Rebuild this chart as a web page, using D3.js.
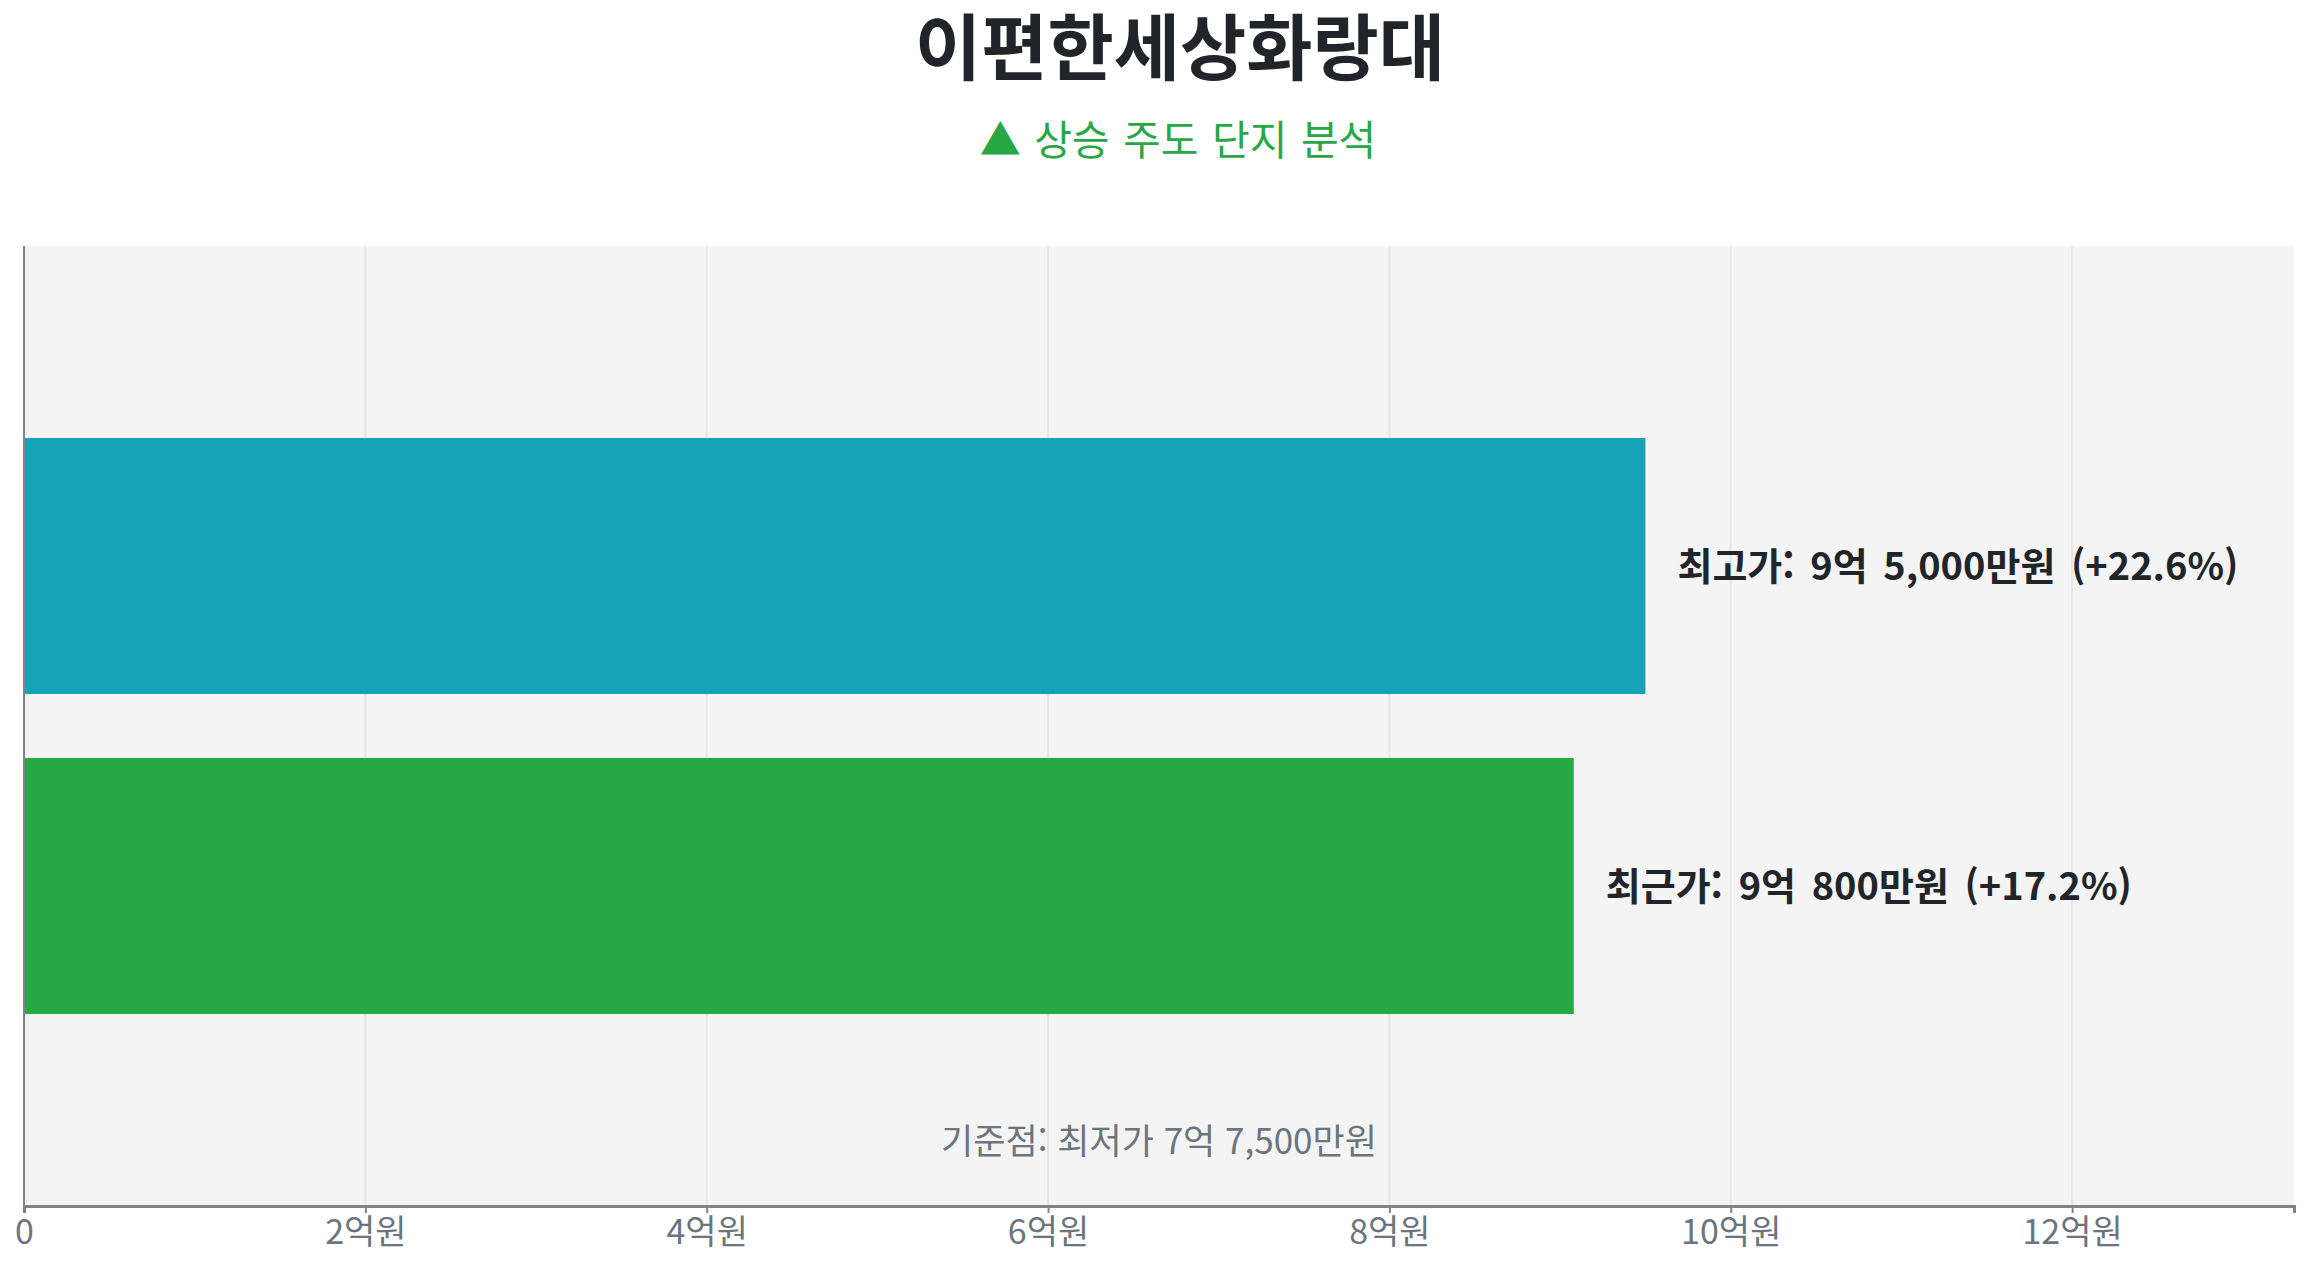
<!DOCTYPE html>
<html lang="ko">
<head>
<meta charset="UTF-8">
<title>이편한세상화랑대</title>
<script src="https://d3js.org/d3.v7.min.js"></script>
<style>
    body { margin: 0; background: #ffffff; }
    svg text { font-family: "Noto Sans CJK KR", "Noto Sans", sans-serif; }
</style>
</head>
<body>
<script>
    // data (억원 단위)
    let categories = ["최고가", "최근가"];
    let values = [9.5, 9.08];
    let barColors = ["#17a2b8", "#28a745"];
    let basePrice = 7.75;
    let tickValues = [0, 2, 4, 6, 8, 10, 12];

    let width = 2307;
    let height = 1268;
    let margin = {top: 246, right: 13, bottom: 62, left: 24};
    let innerW = width - margin.left - margin.right;
    let innerH = height - margin.top - margin.bottom;

    let svg = d3.select("body").append("svg")
        .attr("width", width)
        .attr("height", height);

    // title
    svg.append("text")
        .attr("x", 1180)
        .attr("y", 42)
        .attr("text-anchor", "middle")
        .attr("dominant-baseline", "central")
        .attr("font-size", 72)
        .attr("font-weight", 700)
        .attr("fill", "#212529")
        .text("이편한세상화랑대");

    svg.append("text")
        .attr("x", 1178)
        .attr("y", 137)
        .attr("text-anchor", "middle")
        .attr("dominant-baseline", "central")
        .attr("font-size", 41)
        .attr("word-spacing", 2)
        .attr("fill", "#28a745")
        .text("▲ 상승 주도 단지 분석");

    let g = svg.append("g")
        .attr("transform", `translate(${margin.left},${margin.top})`);

    let x = d3.scaleLinear()
        .domain([0, d3.max(values) * 1.4])
        .range([0, innerW]);

    let y = d3.scaleBand()
        .domain(categories)
        .range([0, innerH])
        .paddingInner(0.2)
        .paddingOuter(0.6);

    // plot background
    g.append("rect")
        .attr("width", innerW)
        .attr("height", innerH)
        .attr("fill", "#f4f4f4");

    // grid lines
    g.append("g")
        .selectAll("line")
        .data(tickValues.filter(d => d > 0))
        .enter().append("line")
        .attr("x1", d => x(d))
        .attr("x2", d => x(d))
        .attr("y1", 0)
        .attr("y2", innerH)
        .attr("stroke", "#e6e6e6")
        .attr("stroke-width", 2);

    // bars
    g.append("g")
        .selectAll("rect")
        .data(values)
        .enter().append("rect")
        .attr("x", 0)
        .attr("y", (d, i) => y(categories[i]))
        .attr("width", d => x(d))
        .attr("height", y.bandwidth())
        .attr("fill", (d, i) => barColors[i]);

    function priceText(v) {
        let eok = Math.floor(v);
        let man = Math.round((v - eok) * 10000);
        return eok + "억" + (man > 0 ? " " + d3.format(",")(man) + "만원" : "원");
    }

    // value labels
    g.append("g")
        .selectAll("text")
        .data(values)
        .enter().append("text")
        .attr("x", d => x(d) + 32)
        .attr("y", (d, i) => y(categories[i]) + y.bandwidth() / 2 - 3)
        .attr("dominant-baseline", "central")
        .attr("font-size", 38)
        .attr("font-weight", 700)
        .attr("word-spacing", 5)
        .attr("fill", "#212529")
        .text((d, i) => {
            let pct = (d - basePrice) / basePrice * 100;
            return categories[i] + ": " + priceText(d) + " (+" + pct.toFixed(1) + "%)";
        });

    // baseline note
    g.append("text")
        .attr("x", innerW / 2)
        .attr("y", innerH - 68)
        .attr("text-anchor", "middle")
        .attr("dominant-baseline", "central")
        .attr("font-size", 35)
        .attr("fill", "#6c757d")
        .text("기준점: 최저가 " + priceText(basePrice));

    // left axis line
    g.append("line")
        .attr("x1", 0).attr("x2", 0)
        .attr("y1", 0).attr("y2", innerH)
        .attr("stroke", "#7d838a")
        .attr("stroke-width", 2);

    // x axis
    let xAxis = g.append("g")
        .attr("transform", `translate(0,${innerH})`)
        .call(d3.axisBottom(x)
            .tickValues(tickValues)
            .tickSize(7)
            .tickPadding(7)
            .tickFormat(d => d === 0 ? "0" : d + "억원"));

    xAxis.select(".domain")
        .attr("stroke", "#7d838a")
        .attr("stroke-width", 3);
    xAxis.selectAll(".tick line")
        .attr("stroke", "#7d838a")
        .attr("stroke-width", 2);
    xAxis.selectAll(".tick text")
        .attr("font-family", "'Noto Sans CJK KR', sans-serif")
        .attr("font-size", 34)
        .attr("fill", "#6c757d");
</script>
</body>
</html>
